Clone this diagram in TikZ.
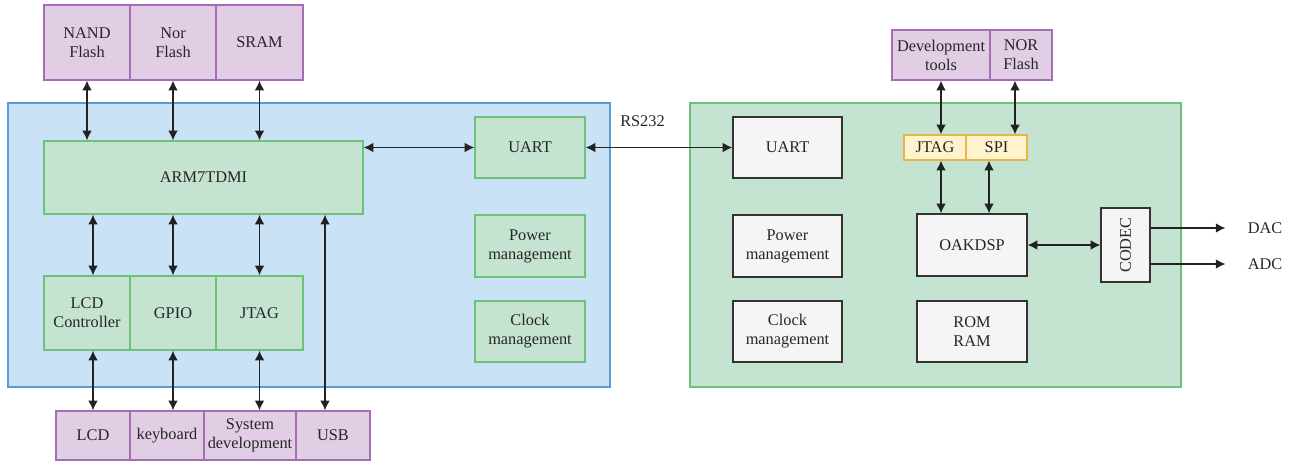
\documentclass[tikz,border=0pt]{standalone}
\usepackage{tikz}
\usepackage{xcolor}
\usepackage{graphicx}
\usepackage{fontspec}
\setmainfont{Liberation Serif}
\usetikzlibrary{arrows.meta}

\definecolor{chipblue}{HTML}{C9E2F5}
\definecolor{chipblueline}{HTML}{5B9BD5}
\definecolor{modgreen}{HTML}{C5E3D1}
\definecolor{modgreenline}{HTML}{6CC27A}
\definecolor{extpurple}{HTML}{E1CDE4}
\definecolor{extpurpleline}{HTML}{A56DB5}
\definecolor{busyellow}{HTML}{FFF2CC}
\definecolor{busyellowline}{HTML}{E6B64A}
\definecolor{dspgrey}{HTML}{F5F5F5}
\definecolor{wire}{HTML}{222222}

\begin{document}
\begin{tikzpicture}[
            x=0.02cm, y=-0.02cm,
            every node/.style={font=\fontsize{9.3}{10.8}\selectfont, text=black!85, align=center, inner sep=0pt},
            chip/.style={draw=chipblueline, fill=chipblue, line width=0.7pt},
            board/.style={draw=modgreenline, fill=modgreen, line width=0.7pt},
            module/.style={draw=modgreenline, fill=modgreen, line width=0.8pt},
            ext/.style={draw=extpurpleline, fill=extpurple, line width=0.8pt},
            bus/.style={draw=busyellowline, fill=busyellow, line width=0.8pt},
            dsp/.style={draw=black!80, fill=dspgrey, line width=0.8pt},
            arrow/.style={<->, line width=0.75pt, >={Latex[length=5.5pt,width=5.5pt]}, draw=wire},
            oneway/.style={->, line width=0.75pt, >={Latex[length=5.5pt,width=5.5pt]}, draw=wire}
        ]
            \useasboundingbox (0,0) rectangle (1290,464);

            % Left chip
            \node[chip, minimum width=12.04cm, minimum height=5.68cm] (chipl) at (309,245) {};
            \node[module, minimum width=6.38cm, minimum height=1.46cm] (arm) at (203.5,177.5) {ARM7TDMI};
            \node[module, minimum width=2.2cm, minimum height=1.22cm] (uartl) at (530,147.5) {UART};
            \node[module, minimum width=2.2cm, minimum height=1.24cm] (powerl) at (530,246) {Power\\management};
            \node[module, minimum width=2.2cm, minimum height=1.22cm] (clockl) at (530,331.5) {Clock\\management};

            % Left chip - peripheral row
            \node[module, minimum width=1.72cm, minimum height=1.48cm] (lcdctrl) at (87,313) {LCD\\Controller};
            \node[module, minimum width=1.72cm, minimum height=1.48cm] (gpio) at (173,313) {GPIO};
            \node[module, minimum width=1.74cm, minimum height=1.48cm] (jtagl) at (259.5,313) {JTAG};

            % Memories above
            \node[ext, minimum width=1.72cm, minimum height=1.5cm] (nand) at (87,42.5) {NAND\\Flash};
            \node[ext, minimum width=1.72cm, minimum height=1.5cm] (norl) at (173,42.5) {Nor\\Flash};
            \node[ext, minimum width=1.74cm, minimum height=1.5cm] (sram) at (259.5,42.5) {SRAM};

            % Devices below
            \node[ext, minimum width=1.48cm, minimum height=0.98cm] (lcd) at (93,435.5) {LCD};
            \node[ext, minimum width=1.48cm, minimum height=0.98cm] (keyboard) at (167,435.5) {keyboard};
            \node[ext, minimum width=1.84cm, minimum height=0.98cm] (sysdev) at (250,435.5) {System\\development};
            \node[ext, minimum width=1.48cm, minimum height=0.98cm] (usb) at (333,435.5) {USB};

            % Right board
            \node[board, minimum width=9.82cm, minimum height=5.68cm] (boardr) at (935.5,245) {};
            \node[dsp, minimum width=2.18cm, minimum height=1.22cm] (uartr) at (787.5,147.5) {UART};
            \node[dsp, minimum width=2.18cm, minimum height=1.24cm] (powerr) at (787.5,246) {Power\\management};
            \node[dsp, minimum width=2.18cm, minimum height=1.22cm] (clockr) at (787.5,331.5) {Clock\\management};
            \node[dsp, minimum width=2.2cm, minimum height=1.24cm] (oak) at (972,245) {OAKDSP};
            \node[dsp, minimum width=2.2cm, minimum height=1.22cm] (rom) at (972,331.5) {ROM\\RAM};
            \node[dsp, minimum width=0.98cm, minimum height=1.48cm] (codec) at (1125.5,245) {\rotatebox{90}{CODEC}};
            \node[bus, minimum width=1.24cm, minimum height=0.5cm] (jtagr) at (935,147.5) {JTAG};
            \node[bus, minimum width=1.22cm, minimum height=0.5cm] (spi) at (996.5,147.5) {SPI};

            % Tools above the board
            \node[ext, minimum width=1.96cm, minimum height=1.0cm] (devtools) at (941,55) {Development\\tools};
            \node[ext, minimum width=1.24cm, minimum height=1.0cm] (norr) at (1021,55) {NOR\\Flash};

            % Labels
            \node (rs) at (642.5,121) {RS232};
            \node (dac) at (1265,228) {DAC};
            \node (adc) at (1265,264) {ADC};

            % Left chip connections
            \draw[arrow] (nand.south) -- (nand.south |- arm.north);
            \draw[arrow] (norl.south) -- (norl.south |- arm.north);
            \draw[arrow] (sram.south) -- (sram.south |- arm.north);
            \draw[arrow] (arm.south -| lcd.north) -- (lcdctrl.north -| lcd.north);
            \draw[arrow] (arm.south -| gpio.north) -- (gpio.north);
            \draw[arrow] (arm.south -| jtagl.north) -- (jtagl.north);
            \draw[arrow] (lcdctrl.south -| lcd.north) -- (lcd.north);
            \draw[arrow] (gpio.south) -- (gpio.south |- keyboard.north);
            \draw[arrow] (jtagl.south) -- (jtagl.south |- sysdev.north);
            \draw[arrow] (arm.south -| usb.north) ++(-8,0) coordinate (usbtop) -- (usbtop |- usb.north);
            \draw[arrow] (arm.east |- uartl.west) -- (uartl.west);

            % Serial link
            \draw[arrow] (uartl.east) -- (uartr.west);

            % Right board connections
            \draw[arrow] (devtools.south) -- (devtools.south |- jtagr.north);
            \draw[arrow] ([xshift=-0.12cm]norr.south) -- ([xshift=-0.12cm]norr.south |- spi.north);
            \draw[arrow] (jtagr.south -| 941,0) -- (oak.north -| 941,0);
            \draw[arrow] (spi.south -| 989,0) -- (oak.north -| 989,0);
            \draw[arrow] (oak.east) -- (codec.west);
            \draw[oneway] (codec.east |- dac) -- ([xshift=-0.44cm]dac.west);
            \draw[oneway] (codec.east |- adc) -- ([xshift=-0.44cm]adc.west);
        \end{tikzpicture}
\end{document}
